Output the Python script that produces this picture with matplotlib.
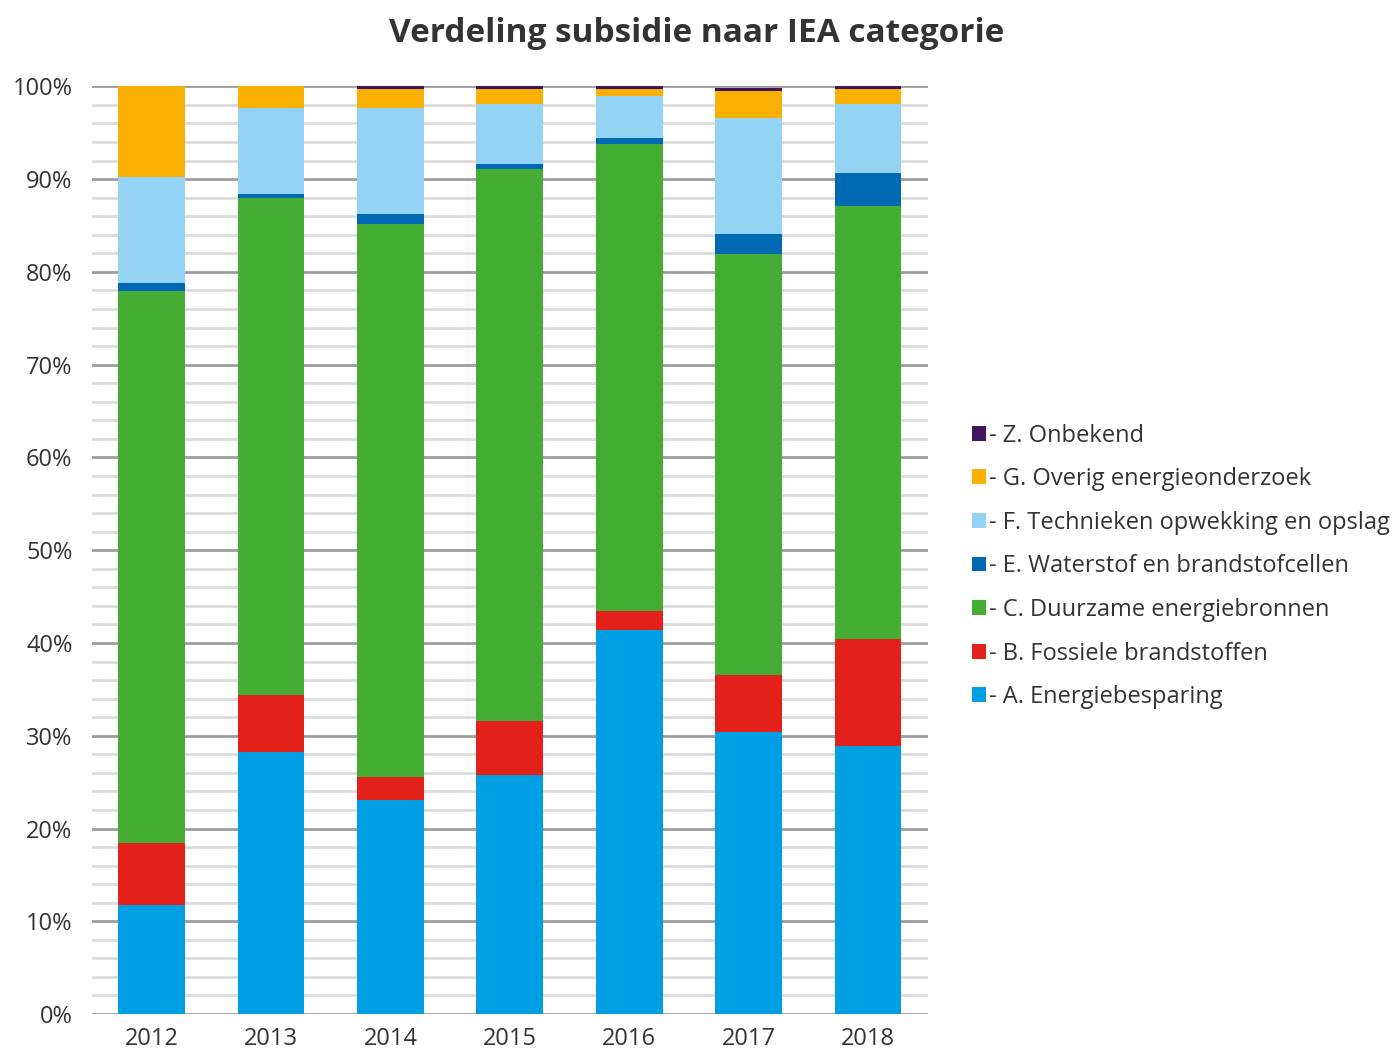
import matplotlib.pyplot as plt
import numpy as np
from matplotlib.patches import Patch

# --- Data (shares in %) -----------------------------------------------------
years = ["2012", "2013", "2014", "2015", "2016", "2017", "2018"]

a_besparing = [11.7, 28.2, 23.1, 25.8, 41.4, 30.4, 28.9]
b_fossiel   = [6.7, 6.2, 2.4, 5.8, 2.0, 6.1, 11.5]
c_duurzaam  = [59.5, 53.6, 59.7, 59.5, 50.4, 45.4, 46.7]
e_waterstof = [0.9, 0.4, 1.0, 0.5, 0.6, 2.2, 3.6]
f_technieken = [11.4, 9.3, 11.5, 6.5, 4.6, 12.5, 7.4]
g_overig    = [9.8, 2.3, 2.0, 1.6, 0.7, 2.9, 1.6]
z_onbekend  = [0.0, 0.0, 0.3, 0.3, 0.3, 0.3, 0.3]

series = [
    ("- A. Energiebesparing", a_besparing, "#009FE3"),
    ("- B. Fossiele brandstoffen", b_fossiel, "#E3211A"),
    ("- C. Duurzame energiebronnen", c_duurzaam, "#45AC34"),
    ("- E. Waterstof en brandstofcellen", e_waterstof, "#0069B4"),
    ("- F. Technieken opwekking en opslag", f_technieken, "#94D3F4"),
    ("- G. Overig energieonderzoek", g_overig, "#F9B000"),
    ("- Z. Onbekend", z_onbekend, "#42145F"),
]

TEXT = "#333333"
plt.rcParams["font.family"] = ["Open Sans", "DejaVu Sans"]

fig = plt.figure(figsize=(13.93, 10.53), dpi=100)
ax = fig.add_axes([0.066, 0.037, 0.6, 0.881])

x = np.arange(len(years))
bottom = np.zeros(len(years))
for label, vals, color in series:
    vals = np.asarray(vals)
    ax.bar(x, vals, width=0.56, bottom=bottom, color=color, label=label,
           zorder=3, linewidth=0)
    bottom += vals

# grid: light lines every 2 %, darker every 10 %
for v in range(0, 101, 2):
    if v % 10 == 0:
        ax.axhline(v, color="#9d9d9d", linewidth=2.0, zorder=1)
    else:
        ax.axhline(v, color="#dcdcdc", linewidth=2.0, zorder=1)

ax.set_xlim(-0.5, len(years) - 0.5)
ax.set_ylim(0, 100)
ax.set_xticks(x)
ax.set_xticklabels(years)
ax.set_yticks(range(0, 101, 10))
ax.set_yticklabels([f"{v}%" for v in range(0, 101, 10)])
ax.tick_params(axis="both", length=0, labelsize=17, colors=TEXT)
ax.tick_params(axis="x", pad=9)
ax.tick_params(axis="y", pad=14)
for s in ax.spines.values():
    s.set_visible(False)

fig.suptitle("Verdeling subsidie naar IEA categorie", x=0.5, y=0.984,
             fontsize=24, fontweight="bold", color=TEXT)

handles = [Patch(facecolor=c, label=l) for l, _, c in series][::-1]
leg = fig.legend(handles=handles, loc="upper left",
                 bbox_to_anchor=(0.689, 0.609), frameon=False,
                 fontsize=17, handlelength=0.6, handleheight=0.6,
                 handletextpad=0.12, labelspacing=0.83, borderpad=0)
for t in leg.get_texts():
    t.set_color(TEXT)

fig.savefig("out.png", dpi=100)
